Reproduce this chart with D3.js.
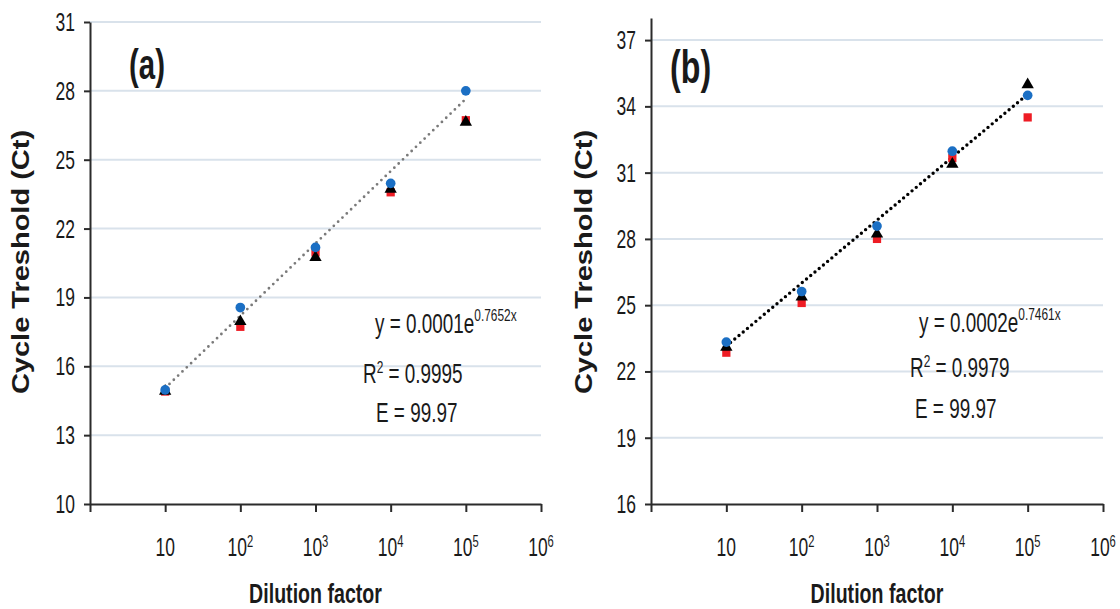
<!DOCTYPE html>
<html>
<head>
<meta charset="utf-8">
<script src="https://cdn.jsdelivr.net/npm/d3@7.9.0/dist/d3.min.js"></script>
<style>
  body { margin: 0; background: #fff; }
  svg { display: block; font-family: "Liberation Sans", Arial, sans-serif; }
</style>
</head>
<body>
<svg id="chart" width="1120" height="609"></svg>
<script>
// dilution steps shared by both panels
const dilution = [10, 100, 1000, 10000, 100000];

// x axis ticks (log scale), exponent used for the label 10^n
const xTickVals = [1, 10, 100, 1000, 10000, 100000, 1000000];
const xTickExp = [0, 1, 2, 3, 4, 5, 6];

// panel (a)
const ctA_blue = [14.97, 18.56, 21.18, 23.97, 28.0];
const ctA_red = [14.9, 17.72, 20.96, 23.58, 26.72];
const ctA_black = [14.92, 17.95, 20.74, 23.72, 26.64];
const trendA = [15.05, 27.65];
const yTicksA = [10, 13, 16, 19, 22, 25, 28, 31];
const eqA = ['y = 0.0001e', '0.7652x', '0.9995', '99.97'];

// panel (b)
const ctB_blue = [23.33, 25.62, 28.58, 31.97, 34.5];
const ctB_red = [22.85, 25.1, 28.0, 31.66, 33.5];
const ctB_black = [23.1, 25.37, 28.22, 31.38, 34.98];
const trendB = [23.15, 34.55];
const yTicksB = [16, 19, 22, 25, 28, 31, 34, 37];
const eqB = ['y = 0.0002e', '0.7461x', '0.9979', '99.97'];

const SQX = 0.7; // the figure is squeezed horizontally
const svg = d3.select('#chart');

function txt(g, x, y, size, anchor, weight) {
  return g.append('text')
    .attr('transform', `translate(${x},${y}) scale(${SQX},1)`)
    .attr('font-size', size)
    .attr('text-anchor', anchor || 'start')
    .attr('font-weight', weight || 'normal')
    .attr('fill', '#1a1a1a');
}

function drawPanel(p) {
  const g = svg.append('g');
  const x = d3.scaleLog().domain([1, 1e6]).range([p.left, p.right]);
  const y = d3.scaleLinear().domain(p.yDomain).range([504, p.top]);

  // gridlines
  g.append('g').selectAll('line')
    .data(p.yTicks.filter(t => t > p.yDomain[0]))
    .join('line')
    .attr('x1', p.left).attr('x2', p.right)
    .attr('y1', d => y(d)).attr('y2', d => y(d))
    .attr('stroke', '#d9e2eb')
    .attr('stroke-width', 2);

  const xAxis = g.append('g')
    .attr('transform', 'translate(0,504)')
    .call(d3.axisBottom(x).tickValues(xTickVals).tickFormat(() => '').tickSize(8).tickSizeOuter(0));
  const yAxis = g.append('g')
    .attr('transform', `translate(${p.left},0)`)
    .call(d3.axisLeft(y).tickValues(p.yTicks).tickFormat(() => '').tickSize(6).tickSizeOuter(0));
  [xAxis, yAxis].forEach(a => {
    a.selectAll('path, line').attr('stroke', '#2b2b2b').attr('stroke-width', 2);
  });

  // y tick labels
  p.yTicks.forEach(t => {
    txt(g, p.left - 15, y(t) + 9, 25, 'end').text(t);
  });

  // x tick labels
  xTickVals.forEach((v, i) => {
    if (xTickExp[i] === 0) return;
    const t = txt(g, x(v), 556, 25, 'middle');
    t.append('tspan').text('10');
    if (xTickExp[i] > 1) {
      t.append('tspan').attr('font-size', 16).attr('dy', -9).text(xTickExp[i]);
    }
  });

  // axis titles
  txt(g, (p.left + p.right) / 2, 603, 28, 'middle', 'bold').text('Dilution factor');
  g.append('text')
    .attr('transform', `translate(${p.titleX},262) rotate(-90) scale(1,0.8)`)
    .attr('font-size', 29)
    .attr('font-weight', 'bold')
    .attr('text-anchor', 'middle')
    .attr('fill', '#1a1a1a')
    .text('Cycle Treshold (Ct)');

  // panel letter
  txt(g, p.letterX, p.letterY, p.letterSize, 'start', 'bold').text(p.letter);

  // trend line
  const trendX = [dilution[0], dilution[dilution.length - 1]];
  g.append('path')
    .datum(p.trend.map((v, i) => [trendX[i], v]))
    .attr('d', d3.line().x(d => x(d[0])).y(d => y(d[1])))
    .attr('fill', 'none')
    .attr('stroke', p.trendColor)
    .attr('stroke-width', p.trendWidth)
    .attr('stroke-linecap', 'round')
    .attr('stroke-dasharray', p.trendDash);

  // markers: red squares, black triangles, blue circles
  const series = [
    { vals: p.red, type: d3.symbolSquare, size: 68, color: '#ee1c24' },
    { vals: p.black, type: d3.symbolTriangle, size: 66, color: '#000000' },
    { vals: p.blue, type: d3.symbolCircle, size: 74, color: '#1b6fc4' }
  ];
  series.forEach(s => {
    g.append('g').selectAll('path')
      .data(s.vals)
      .join('path')
      .attr('transform', (d, i) => `translate(${x(dilution[i])},${y(d)})`)
      .attr('d', d3.symbol().type(s.type).size(s.size))
      .attr('fill', s.color);
  });

  // equation block
  const e1 = txt(g, p.eqX[0], p.eqY[0], 27, 'start');
  e1.append('tspan').text(p.eq[0]);
  e1.append('tspan').attr('font-size', 17).attr('dy', -12).text(p.eq[1]);
  const e2 = txt(g, p.eqX[1], p.eqY[1], 27, 'start');
  e2.append('tspan').text('R');
  e2.append('tspan').attr('font-size', 17).attr('dy', -10).text('2');
  e2.append('tspan').attr('dy', 10).text(' = ' + p.eq[2]);
  txt(g, p.eqX[2], p.eqY[2], 27, 'start').text('E = ' + p.eq[3]);
}

drawPanel({
  left: 90, right: 541, top: 22, yDomain: [10, 31], yTicks: yTicksA,
  blue: ctA_blue, red: ctA_red, black: ctA_black, trend: trendA,
  trendColor: '#7a7a7a', trendWidth: 2.8, trendDash: '0,6',
  letter: '(a)', letterX: 129, letterY: 79, letterSize: 42,
  titleX: 29, eq: eqA, eqX: [375, 363, 376], eqY: [333, 383, 422]
});

drawPanel({
  left: 651, right: 1103, top: 18, yDomain: [16, 38], yTicks: yTicksB,
  blue: ctB_blue, red: ctB_red, black: ctB_black, trend: trendB,
  trendColor: '#000000', trendWidth: 3.4, trendDash: '0,5.5',
  letter: '(b)', letterX: 670, letterY: 83, letterSize: 46,
  titleX: 592, eq: eqB, eqX: [919, 910, 915], eqY: [332, 377, 418]
});
</script>
</body>
</html>
